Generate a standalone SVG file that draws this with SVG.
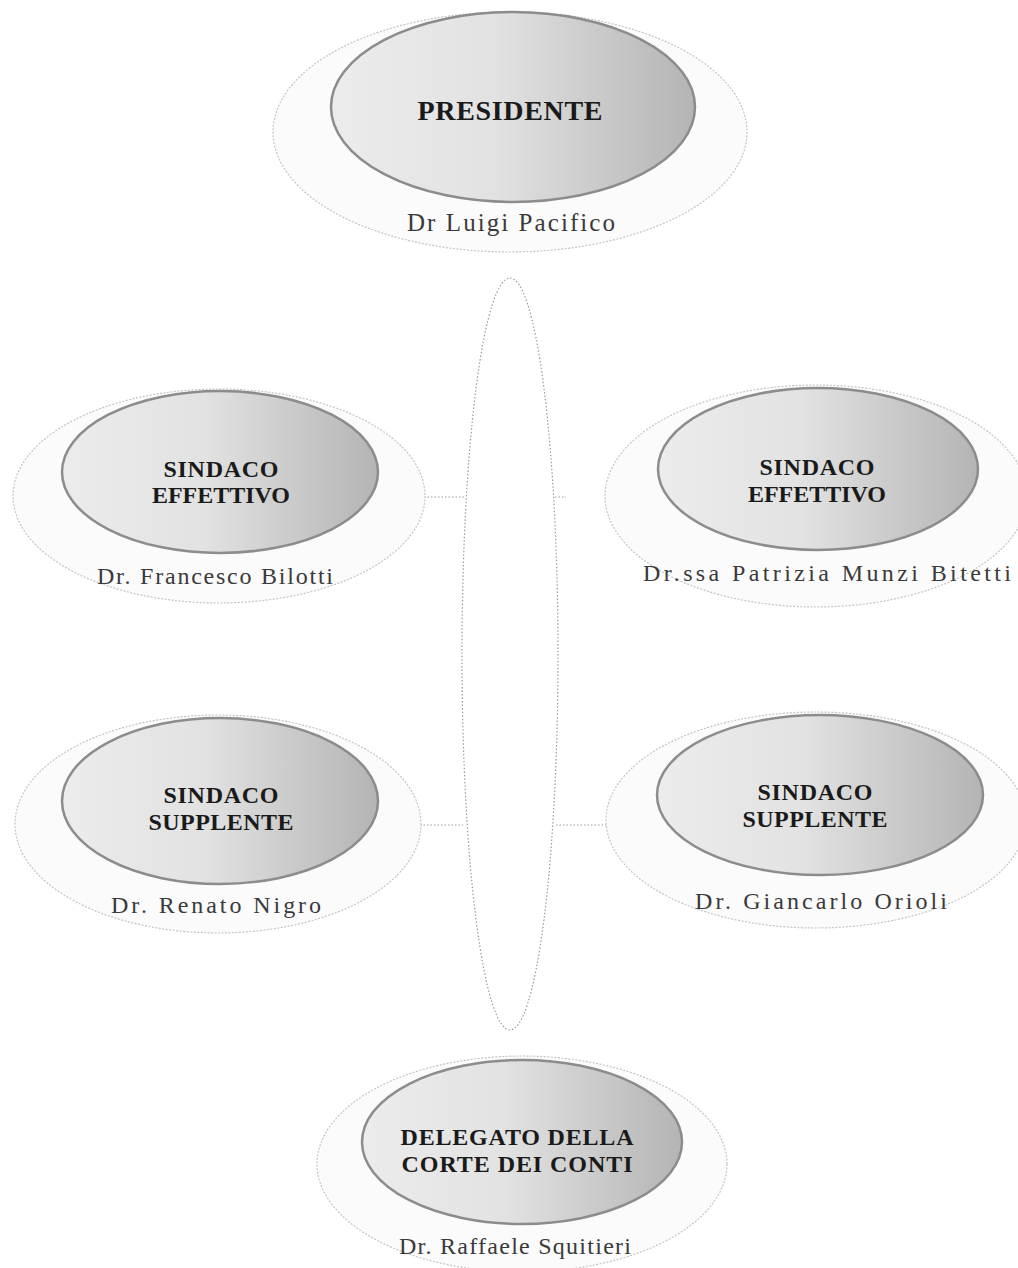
<svg xmlns="http://www.w3.org/2000/svg" width="1018" height="1268" viewBox="0 0 1018 1268">
<style>
.outer{fill:#fbfbfb;stroke:#c4c4c4;stroke-width:1.2;stroke-dasharray:2 1.5}
.inner{fill:url(#g);stroke:#8c8c8c;stroke-width:2.5}
.title{font-family:"Liberation Serif",serif;font-weight:bold;fill:#1a1a1a;text-anchor:middle}
.name{font-family:"Liberation Serif",serif;fill:#3a3a3a;text-anchor:middle;font-size:24px}
.conn{stroke:#9a9a9a;stroke-width:1.2;stroke-dasharray:1.5 2;fill:none}
</style>
<defs>
<linearGradient id="g" x1="0" y1="0" x2="1" y2="0">
<stop offset="0" stop-color="#ececec"/>
<stop offset="0.45" stop-color="#e2e2e2"/>
<stop offset="1" stop-color="#b4b4b4"/>
</linearGradient>
</defs>
<rect width="1018" height="1268" fill="#ffffff"/>
<g id="connectors">
<ellipse cx="510" cy="654" rx="48" ry="376" class="conn"/>
<line x1="424" y1="497" x2="464" y2="497" class="conn"/>
<line x1="555" y1="497" x2="566" y2="497" class="conn"/>
<line x1="420" y1="825" x2="463" y2="825" class="conn"/>
<line x1="556" y1="825" x2="608" y2="825" class="conn"/>
</g>
<g id="presidente">
<ellipse cx="510" cy="132" rx="237" ry="120" class="outer"/>
<ellipse cx="513" cy="107" rx="182" ry="95" class="inner"/>
<text x="510" y="120" class="title" font-size="28" textLength="185" lengthAdjust="spacing">PRESIDENTE</text>
<text x="511" y="231" class="name" style="font-size:25px" textLength="208" lengthAdjust="spacing">Dr Luigi Pacifico</text>
</g>
<g id="sindaco-effettivo-1">
<ellipse cx="219" cy="496" rx="206" ry="107" class="outer"/>
<ellipse cx="220" cy="472" rx="158" ry="81" class="inner"/>
<text x="221" y="477" class="title" font-size="24" textLength="115" lengthAdjust="spacing">SINDACO</text>
<text x="221" y="503" class="title" font-size="24" textLength="138" lengthAdjust="spacing">EFFETTIVO</text>
<text x="215" y="584" class="name" textLength="236" lengthAdjust="spacing">Dr. Francesco Bilotti</text>
</g>
<g id="sindaco-effettivo-2">
<ellipse cx="816" cy="496" rx="211" ry="111" class="outer"/>
<ellipse cx="818" cy="469" rx="160" ry="81" class="inner"/>
<text x="817" y="475" class="title" font-size="24" textLength="115" lengthAdjust="spacing">SINDACO</text>
<text x="817" y="502" class="title" font-size="24" textLength="138" lengthAdjust="spacing">EFFETTIVO</text>
<text x="827" y="581" class="name" textLength="368" lengthAdjust="spacing">Dr.ssa Patrizia Munzi Bitetti</text>
</g>
<g id="sindaco-supplente-1">
<ellipse cx="218" cy="824" rx="203" ry="109" class="outer"/>
<ellipse cx="220" cy="801" rx="158" ry="83" class="inner"/>
<text x="221" y="803" class="title" font-size="24" textLength="115" lengthAdjust="spacing">SINDACO</text>
<text x="221" y="830" class="title" font-size="24" textLength="145" lengthAdjust="spacing">SUPPLENTE</text>
<text x="216" y="913" class="name" textLength="210" lengthAdjust="spacing">Dr. Renato Nigro</text>
</g>
<g id="sindaco-supplente-2">
<ellipse cx="816" cy="820" rx="210" ry="108" class="outer"/>
<ellipse cx="820" cy="795" rx="163" ry="80" class="inner"/>
<text x="815" y="800" class="title" font-size="24" textLength="115" lengthAdjust="spacing">SINDACO</text>
<text x="815" y="827" class="title" font-size="24" textLength="145" lengthAdjust="spacing">SUPPLENTE</text>
<text x="821" y="909" class="name" textLength="252" lengthAdjust="spacing">Dr. Giancarlo Orioli</text>
</g>
<g id="delegato">
<ellipse cx="522" cy="1164" rx="205" ry="108" class="outer"/>
<ellipse cx="522" cy="1142" rx="160" ry="82" class="inner"/>
<text x="517" y="1145" class="title" font-size="24" textLength="233" lengthAdjust="spacing">DELEGATO DELLA</text>
<text x="517" y="1172" class="title" font-size="24" textLength="231" lengthAdjust="spacing">CORTE DEI CONTI</text>
<text x="515" y="1254" class="name" textLength="232" lengthAdjust="spacing">Dr. Raffaele Squitieri</text>
</g>
</svg>
